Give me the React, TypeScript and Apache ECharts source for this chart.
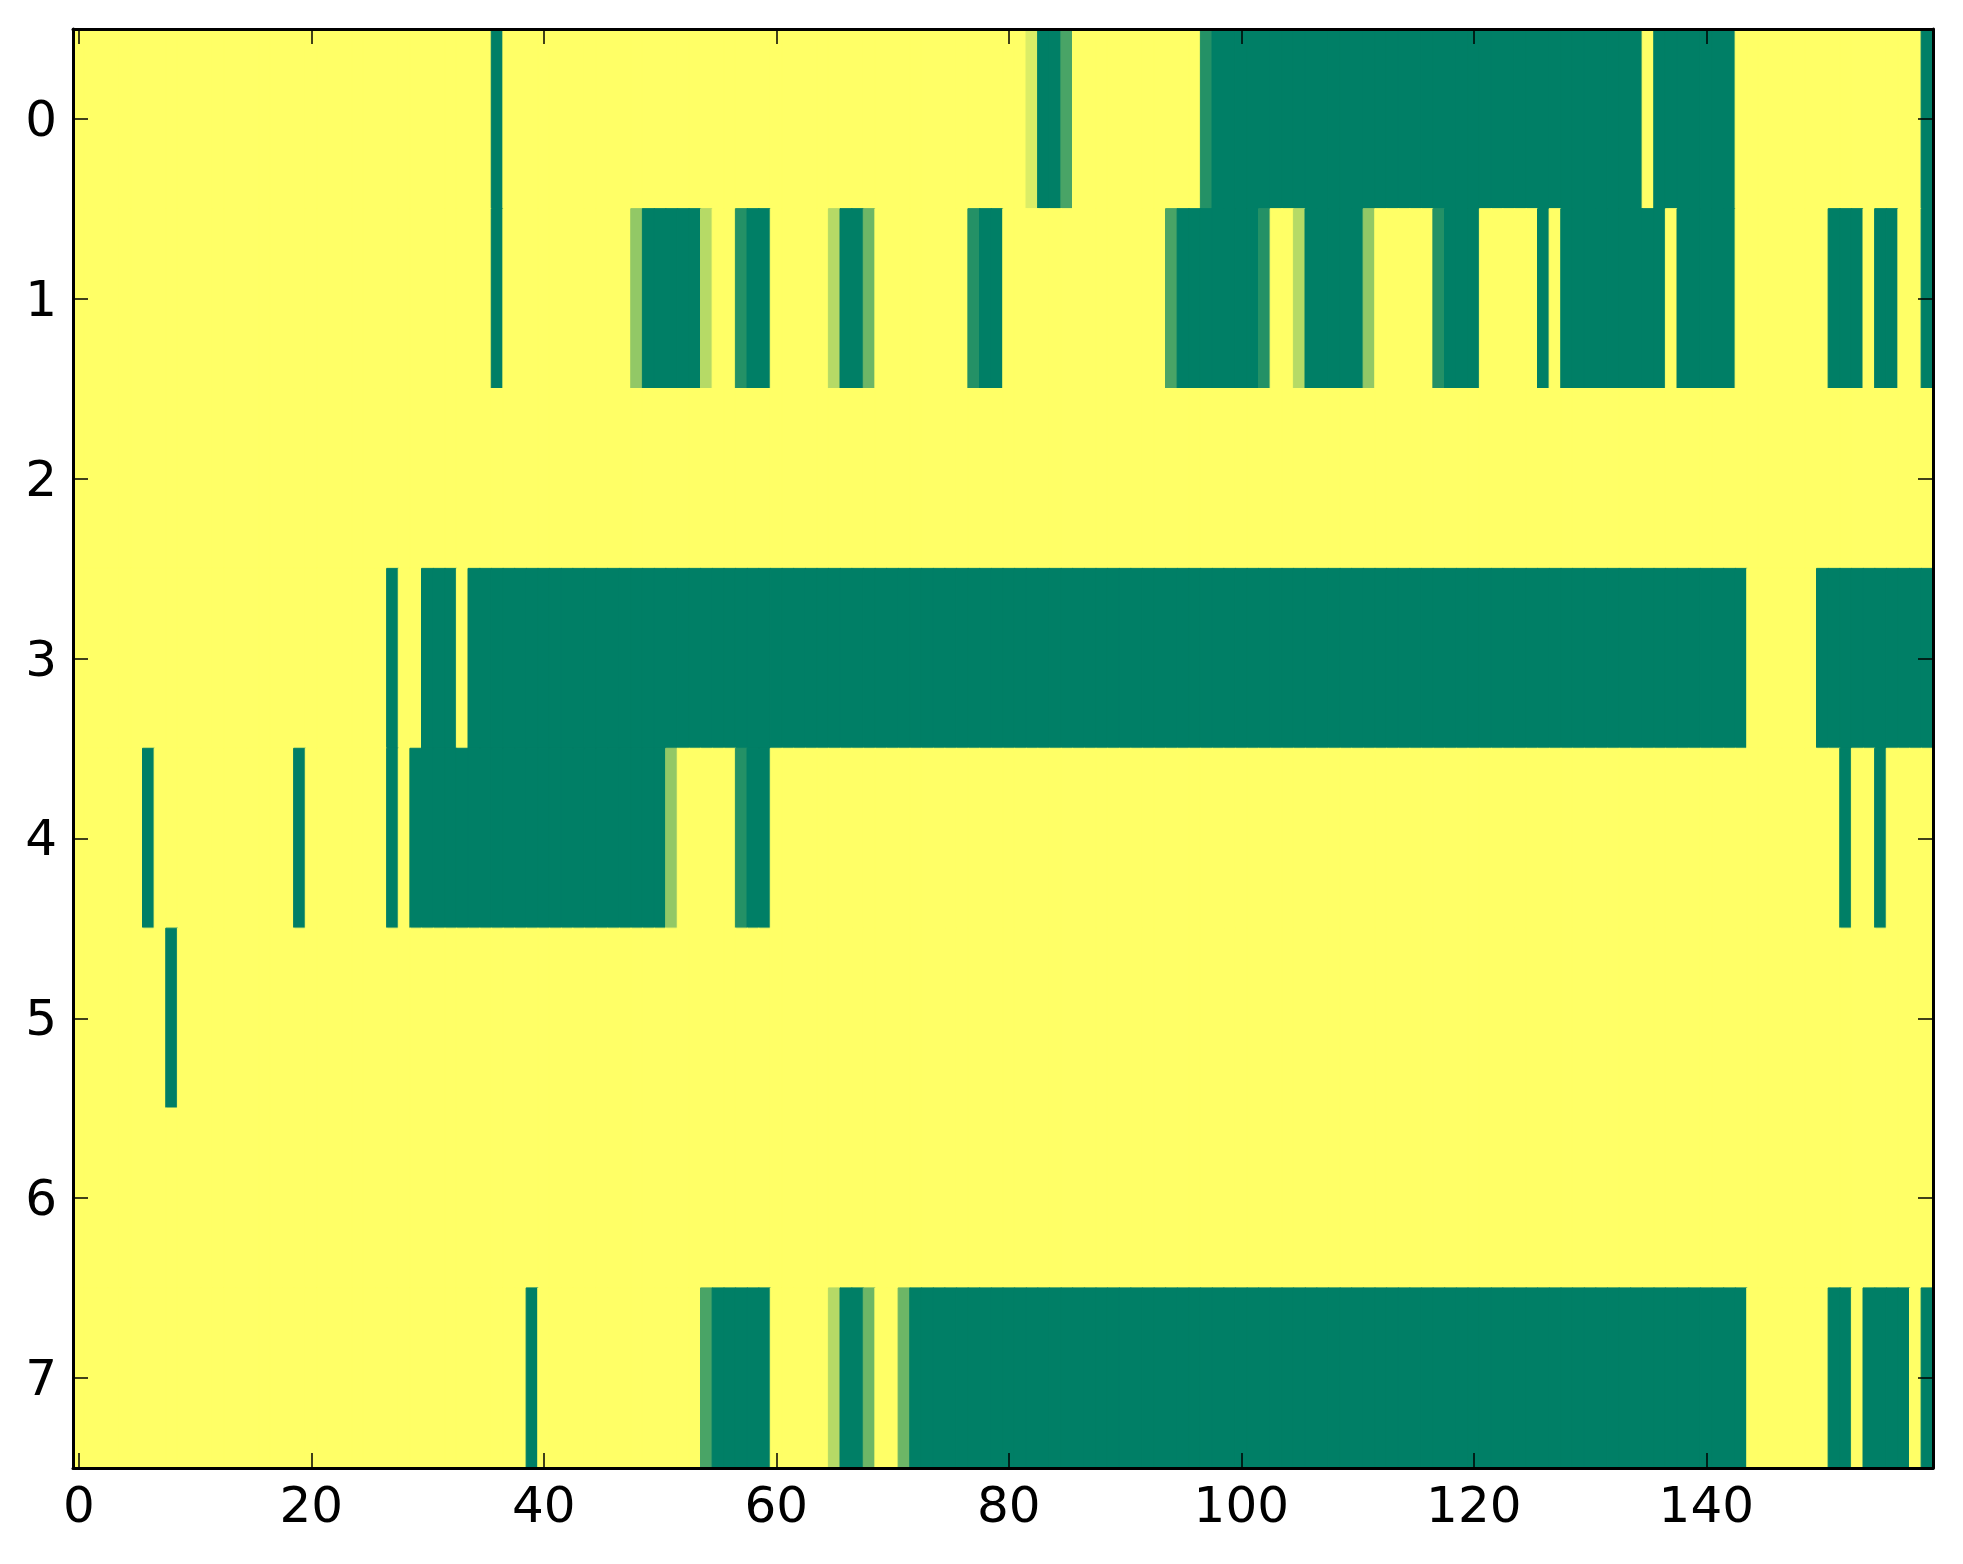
import React, { useEffect, useRef } from "react";
import * as echarts from "echarts";

// Tick labels
const xTickLabels = ["0", "20", "40", "60", "80", "100", "120", "140"];
const yCategories = ["0", "1", "2", "3", "4", "5", "6", "7"];

// Colormap ends (matplotlib "summer")
const colorLow = "#007F66";
const colorHigh = "#FFFF66";

// Cell levels 0..7 (0 = green, 7 = yellow), 160 columns per row, groups of 10
const row0 = "7777777777 7777777777 7777777777 7777770777 7777777777 7777777777 7777777777 7777777777 7760027777 7777777100 0000000000 0000000000 0000000000 0000070000 0007777777 7777777770";
const row1 = "7777777777 7777777777 7777777777 7777770777 7777777740 0000577100 7777750037 7777777100 7777777777 7777200000 0017750000 0477777100 0777770700 0000000700 0007777777 7000700770";
const row2 = "7777777777 7777777777 7777777777 7777777777 7777777777 7777777777 7777777777 7777777777 7777777777 7777777777 7777777777 7777777777 7777777777 7777777777 7777777777 7777777777";
const row3 = "7777777777 7777777777 7777777077 0007000000 0000000000 0000000000 0000000000 0000000000 0000000000 0000000000 0000000000 0000000000 0000000000 0000000000 0000777777 0000000000";
const row4 = "7777770777 7777777770 7777777070 0000000000 0000000000 0477777100 7777777777 7777777777 7777777777 7777777777 7777777777 7777777777 7777777777 7777777777 7777777777 7707707777";
const row5 = "7777777707 7777777777 7777777777 7777777777 7777777777 7777777777 7777777777 7777777777 7777777777 7777777777 7777777777 7777777777 7777777777 7777777777 7777777777 7777777777";
const row6 = "7777777777 7777777777 7777777777 7777777777 7777777777 7777777777 7777777777 7777777777 7777777777 7777777777 7777777777 7777777777 7777777777 7777777777 7777777777 7777777777";
const row7 = "7777777777 7777777777 7777777777 7777777770 7777777777 7777200000 7777750037 7300000000 0000000000 0000000000 0000000000 0000000000 0000000000 0000000000 0000777777 7007000070";

const rowStrings = [row0, row1, row2, row3, row4, row5, row6, row7];
const cellGrid: number[][] = rowStrings.map((s) => s.replace(/\s/g, "").split("").map(Number));
const xCategories = cellGrid[0].map((_, i) => String(i));
const LEVEL_MAX = 7;

const FONT = "DejaVu Sans";

export default function App() {
  const ref = useRef<HTMLDivElement>(null);

  useEffect(() => {
    if (!ref.current) return;
    const chart = echarts.init(ref.current, undefined, { renderer: "svg" });

    const heatData: any[] = [];
    cellGrid.forEach((row, y) => {
      row.forEach((v, x) => {
        const c = echarts.color.lerp(v / LEVEL_MAX, [colorLow, colorHigh]);
        heatData.push({ value: [x, y, v], itemStyle: { borderColor: c, borderWidth: 1 } });
      });
    });

    const tickFilter = (_i: number, v: string) => xTickLabels.includes(v);
    const axisLine = { show: true, lineStyle: { color: "#000", width: 3 } };
    const xTick = {
      show: true,
      inside: true,
      length: 15,
      alignWithLabel: true,
      interval: tickFilter,
      lineStyle: { color: "#000", width: 1.5 },
    };
    const yTick = {
      show: true,
      inside: true,
      length: 15,
      alignWithLabel: true,
      interval: 0,
      lineStyle: { color: "#000", width: 1.5 },
    };
    chart.setOption({
      animation: false,
      backgroundColor: "#fff",
      grid: { left: 73, top: 29, width: 1860, height: 1439, containLabel: false },
      xAxis: [
        {
          type: "category",
          data: xCategories,
          position: "bottom",
          z: 10,
          axisLine,
          axisTick: xTick,
          splitLine: { show: false },
          axisLabel: {
            interval: tickFilter,
            color: "#000",
            fontFamily: FONT,
            fontSize: 50,
            margin: 12,
          },
        },
        {
          type: "category",
          data: xCategories,
          position: "top",
          z: 10,
          axisLine,
          axisTick: xTick,
          splitLine: { show: false },
          axisLabel: { show: false },
        },
      ],
      yAxis: [
        {
          type: "category",
          data: yCategories,
          inverse: true,
          position: "left",
          z: 10,
          axisLine,
          axisTick: yTick,
          splitLine: { show: false },
          axisLabel: {
            interval: 0,
            color: "#000",
            fontFamily: FONT,
            fontSize: 50,
            margin: 16,
          },
        },
        {
          type: "category",
          data: yCategories,
          inverse: true,
          position: "right",
          z: 10,
          axisLine,
          axisTick: yTick,
          splitLine: { show: false },
          axisLabel: { show: false },
        },
      ],
      visualMap: {
        show: false,
        type: "continuous",
        min: 0,
        max: LEVEL_MAX,
        dimension: 2,
        seriesIndex: 0,
        inRange: { color: [colorLow, colorHigh] },
      },
      series: [
        {
          type: "heatmap",
          xAxisIndex: 0,
          yAxisIndex: 0,
          data: heatData,
          emphasis: { disabled: true },
        },
      ],
    });
    return () => chart.dispose();
  }, []);

  return (
    <div
      ref={ref}
      style={{ position: "absolute", left: 0, top: 0, width: 1963, height: 1564, background: "#fff" }}
    />
  );
}
